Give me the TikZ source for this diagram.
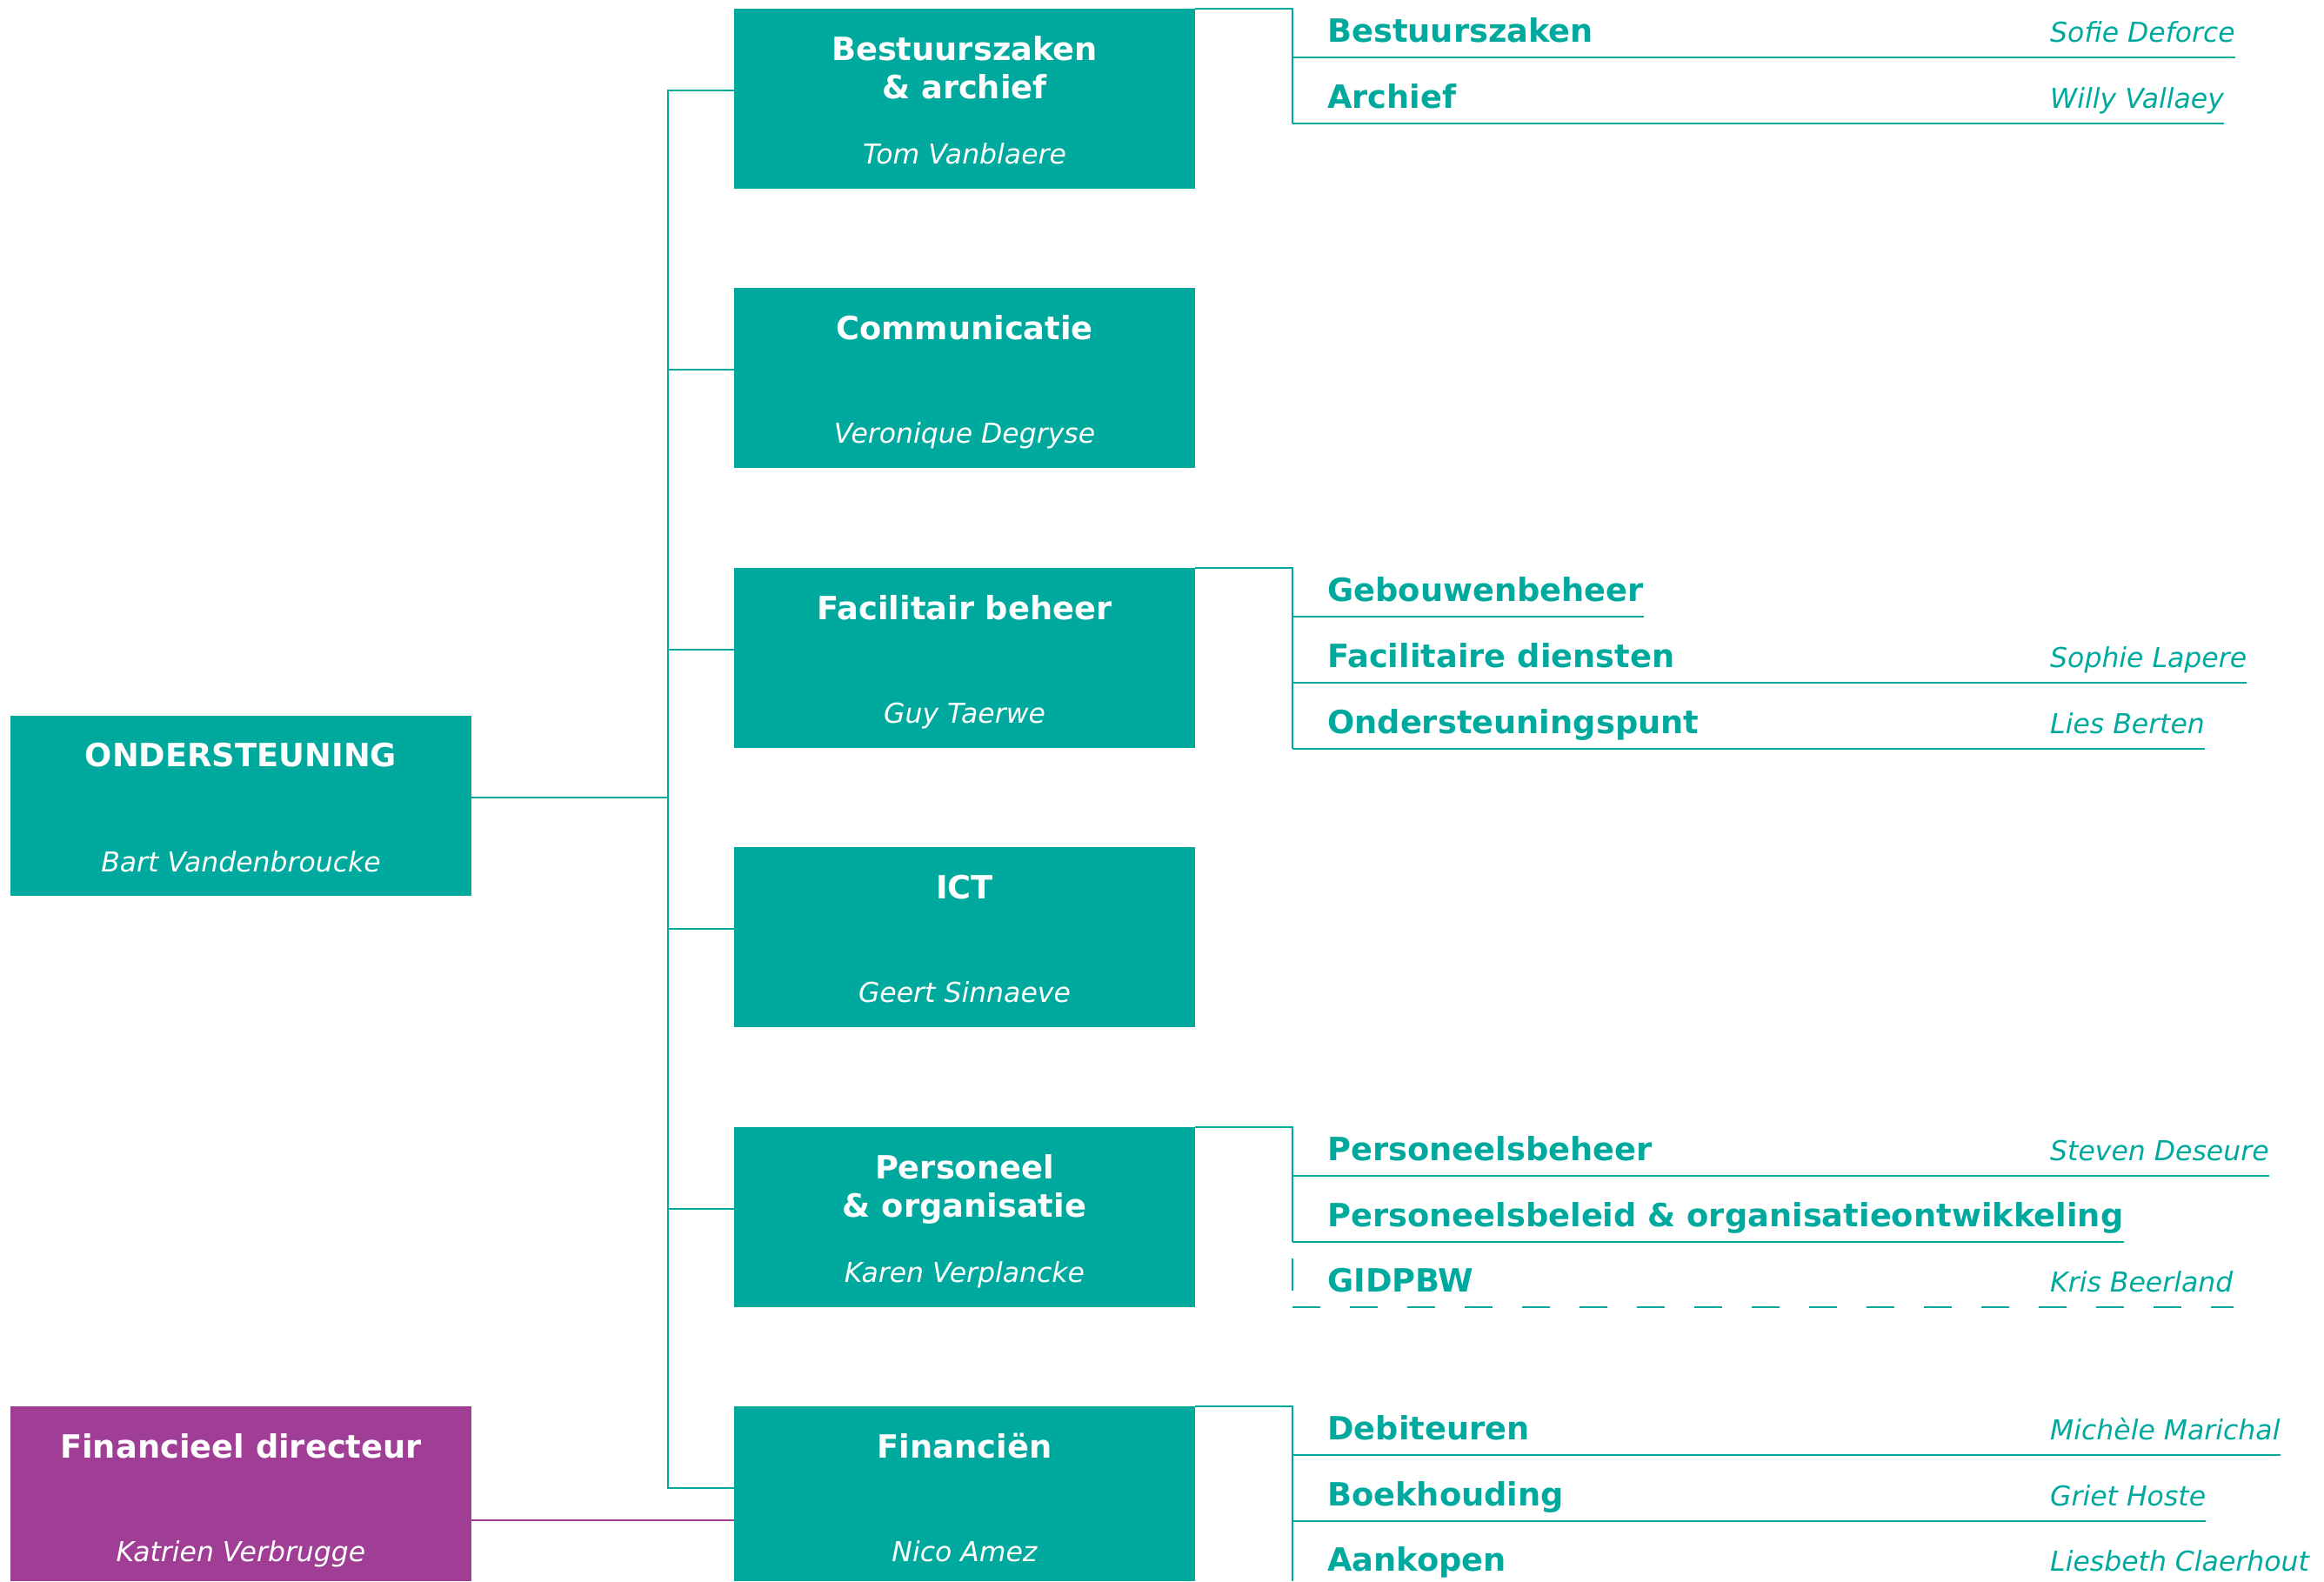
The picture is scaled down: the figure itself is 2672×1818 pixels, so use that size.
\documentclass[tikz,border=0pt]{standalone}
\usepackage{fontspec}
\setmainfont{DejaVu Sans}
\definecolor{uteal}{HTML}{00A99D}
\definecolor{upurple}{HTML}{A03E96}
\begin{document}
\begin{tikzpicture}[x=1pt,y=-1pt,
  unit/.style={fill=uteal, draw=none, anchor=north west, minimum width=530pt, minimum height=207pt, inner sep=0pt, outer sep=0pt},
  ttl/.style={text=white, font=\bfseries\fontsize{36.8}{44}\selectfont, anchor=base, inner sep=0pt},
  nm/.style={text=white, font=\itshape\fontsize{31.5}{38}\selectfont, anchor=base, inner sep=0pt},
  sub/.style={text=uteal, font=\bfseries\fontsize{36.8}{44}\selectfont, anchor=base west, inner sep=0pt},
  subnm/.style={text=uteal, font=\itshape\fontsize{31.5}{38}\selectfont, anchor=base west, inner sep=0pt},
  ln/.style={draw=uteal, line width=2.6pt},
  pl/.style={draw=upurple, line width=2.6pt}]
\useasboundingbox (0,0) rectangle (2672,1818);

% left boxes
\node[unit] (ond) at (12,823) {};
\node[ttl] (ondt) at ([yshift=-58pt]ond.north) {ONDERSTEUNING};
\node[nm] (ondn) at ([yshift=-179pt]ond.north) {Bart Vandenbroucke};

\node[unit, fill=upurple, minimum height=201pt] (fd) at (12,1617) {};
\node[ttl] (fdt) at ([yshift=-59pt]fd.north) {Financieel directeur};
\node[nm] (fdn) at ([yshift=-178pt]fd.north) {Katrien Verbrugge};

% middle boxes
\node[unit] (b1) at (844,10) {};
\node[ttl] (b1t) at ([yshift=-59pt]b1.north) {Bestuurszaken};
\node[ttl] (b1t2) at ([yshift=-103pt]b1.north) {\& archief};
\node[nm] (b1n) at ([yshift=-178pt]b1.north) {Tom Vanblaere};

\node[unit] (b2) at (844,331) {};
\node[ttl] (b2t) at ([yshift=-59pt]b2.north) {Communicatie};
\node[nm] (b2n) at ([yshift=-178pt]b2.north) {Veronique Degryse};

\node[unit] (b3) at (844,653) {};
\node[ttl] (b3t) at ([yshift=-59pt]b3.north) {Facilitair beheer};
\node[nm] (b3n) at ([yshift=-178pt]b3.north) {Guy Taerwe};

\node[unit] (b4) at (844,974) {};
\node[ttl] (b4t) at ([yshift=-59pt]b4.north) {ICT};
\node[nm] (b4n) at ([yshift=-178pt]b4.north) {Geert Sinnaeve};

\node[unit] (b5) at (844,1296) {};
\node[ttl] (b5t) at ([yshift=-59pt]b5.north) {Personeel};
\node[ttl] (b5t2) at ([yshift=-103pt]b5.north) {\& organisatie};
\node[nm] (b5n) at ([yshift=-178pt]b5.north) {Karen Verplancke};

\node[unit, minimum height=201pt] (b6) at (844,1617) {};
\node[ttl] (b6t) at ([yshift=-59pt]b6.north) {Financiën};
\node[nm] (b6n) at ([yshift=-178pt]b6.north) {Nico Amez};

% trunk connectors
\draw[ln] ([yshift=-94pt]b1.north west) -| (768,1711) -- ([yshift=-94pt]b6.north west);
\draw[ln] ([yshift=-94pt]b2.north west) -- ++(-76pt,0pt);
\draw[ln] ([yshift=-94pt]b3.north west) -- ++(-76pt,0pt);
\draw[ln] ([yshift=-94pt]b4.north west) -- ++(-76pt,0pt);
\draw[ln] ([yshift=-94pt]b5.north west) -- ++(-76pt,0pt);
\draw[ln] ([yshift=-94pt]ond.north east) -- ++(226pt,0pt);
\draw[pl] ([yshift=-131pt]fd.north east) -- ([yshift=-131pt]b6.north west);

% bracket 1
\node[sub] (s11) at (1526,48) {Bestuurszaken};
\node[subnm] (s11n) at (2357,48) {Sofie Deforce};
\node[sub] (s12) at (1526,124) {Archief};
\node[subnm] (s12n) at (2357,124) {Willy Vallaey};
\coordinate (r11) at (1486,66);
\coordinate (r12) at (1486,142);
\draw[ln] (b1.north east) -| (r12);
\draw[ln] (r11) -- (r11 -| s11n.east);
\draw[ln] (r12) -- (r12 -| s12n.east);

% bracket 3
\node[sub] (s31) at (1526,691) {Gebouwenbeheer};
\node[sub] (s32) at (1526,767) {Facilitaire diensten};
\node[subnm] (s32n) at (2357,767) {Sophie Lapere};
\node[sub] (s33) at (1526,843) {Ondersteuningspunt};
\node[subnm] (s33n) at (2357,843) {Lies Berten};
\coordinate (r31) at (1486,709);
\coordinate (r32) at (1486,785);
\coordinate (r33) at (1486,861);
\draw[ln] (b3.north east) -| (r33);
\draw[ln] (r31) -- (r31 -| s31.east);
\draw[ln] (r32) -- (r32 -| s32n.east);
\draw[ln] (r33) -- (r33 -| s33n.east);

% bracket 5
\node[sub] (s51) at (1526,1334) {Personeelsbeheer};
\node[subnm] (s51n) at (2357,1334) {Steven Deseure};
\node[sub] (s52) at (1526,1410) {Personeelsbeleid \& organisatieontwikkeling};
\node[sub] (s53) at (1526,1485) {GIDPBW};
\node[subnm] (s53n) at (2357,1485) {Kris Beerland};
\coordinate (r51) at (1486,1352);
\coordinate (r52) at (1486,1428);
\coordinate (r53) at (1486,1503);
\draw[ln] (b5.north east) -| (r52);
\draw[ln] (r51) -- (r51 -| s51n.east);
\draw[ln] (r52) -- (r52 -| s52.east);
\draw[ln, dash pattern=on 0pt off 19pt on 37pt off 40pt] (r52) -- (r53);
\draw[ln, dash pattern=on 32pt off 34pt] (r53) -- (r53 -| s53n.east);

% bracket 6
\node[sub] (s61) at (1526,1655) {Debiteuren};
\node[subnm] (s61n) at (2357,1655) {Michèle Marichal};
\node[sub] (s62) at (1526,1731) {Boekhouding};
\node[subnm] (s62n) at (2357,1731) {Griet Hoste};
\node[sub] (s63) at (1526,1806) {Aankopen};
\node[subnm] (s63n) at (2357,1806) {Liesbeth Claerhout};
\coordinate (r61) at (1486,1673);
\coordinate (r62) at (1486,1749);
\coordinate (r6b) at (1486,1818);
\draw[ln] (b6.north east) -| (r6b);
\draw[ln] (r61) -- (r61 -| s61n.east);
\draw[ln] (r62) -- (r62 -| s62n.east);
\end{tikzpicture}
\end{document}
